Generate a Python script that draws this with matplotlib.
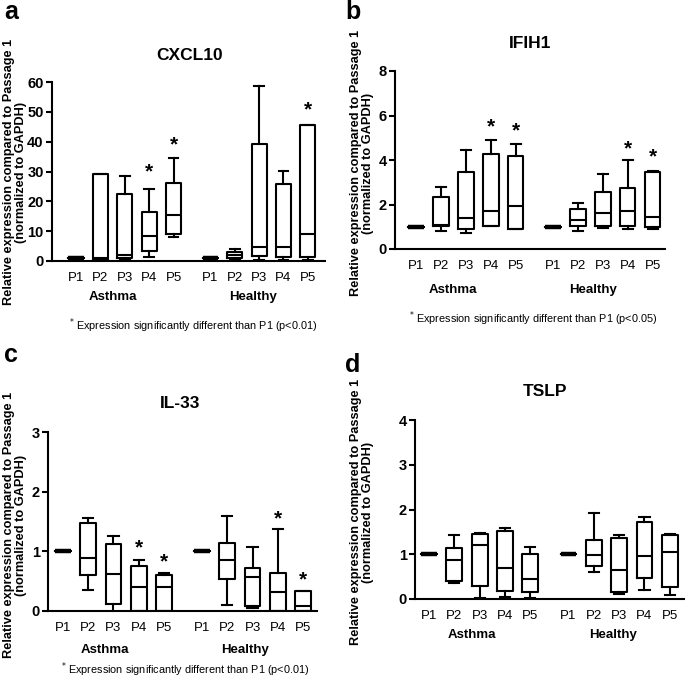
import matplotlib
matplotlib.use('Agg')
import matplotlib.pyplot as plt

plt.rcParams['font.family'] = ['Liberation Sans', 'DejaVu Sans']

passages = ['P1', 'P2', 'P3', 'P4', 'P5']
groups = ['Asthma', 'Healthy']
positions = [1, 2, 3, 4, 5, 6.5, 7.5, 8.5, 9.5, 10.5]

# each gene: lists over 10 boxes (Asthma P1-P5, Healthy P1-P5)
cxcl10_lo = [1, 0.3, 0.5, 1.5, 8, 1, 0.5, 0.3, 0.3, 0.3]
cxcl10_q1 = [1, 0.5, 1.0, 3.3, 9, 1, 1.0, 1.7, 1.3, 1.3]
cxcl10_med = [1, 1.0, 2.0, 8.5, 15.3, 1, 2.0, 4.6, 4.8, 9.2]
cxcl10_q3 = [1, 29.3, 22.3, 16.5, 26, 1, 3.0, 39.2, 25.8, 45.5]
cxcl10_hi = [1, 29.3, 28.5, 24.3, 34.6, 1, 3.9, 58.8, 30.3, 45.5]
cxcl10_stars = [(3, 30), (4, 39), (9, 50.5)]

ifih1_lo = [1, 0.79, 0.72, 1.02, 0.88, 1, 0.8, 0.93, 0.92, 0.88]
ifih1_q1 = [1, 1.02, 0.9, 1.05, 0.9, 1, 1.05, 1.05, 1.05, 0.99]
ifih1_med = [1, 1.09, 1.39, 1.72, 1.93, 1, 1.3, 1.64, 1.69, 1.42]
ifih1_q3 = [1, 2.35, 3.44, 4.27, 4.19, 1, 1.78, 2.57, 2.72, 3.47]
ifih1_hi = [1, 2.8, 4.45, 4.9, 4.72, 1, 2.05, 3.35, 3.98, 3.52]
ifih1_stars = [(3, 5.5), (4, 5.3), (8, 4.5), (9, 4.15)]

il33_lo = [1, 0.35, -0.06, 0, 0, 1, 0.1, 0.05, 0, 0]
il33_q1 = [1, 0.61, 0.12, 0, 0, 1, 0.54, 0.09, 0, 0]
il33_med = [1, 0.88, 0.62, 0.41, 0.4, 1, 0.85, 0.57, 0.32, 0.09]
il33_q3 = [1, 1.47, 1.13, 0.76, 0.6, 1, 1.14, 0.72, 0.64, 0.34]
il33_hi = [1, 1.56, 1.26, 0.86, 0.64, 1, 1.6, 1.08, 1.38, 0.34]
il33_stars = [(3, 1.05), (4, 0.83), (8, 1.55), (9, 0.52)]

tslp_lo = [1, 0.36, 0.02, 0.05, 0.02, 1, 0.6, 0.12, 0.2, 0.1]
tslp_q1 = [1, 0.4, 0.3, 0.17, 0.15, 1, 0.74, 0.15, 0.47, 0.27]
tslp_med = [1, 0.88, 1.21, 0.69, 0.45, 1, 0.98, 0.65, 0.95, 1.04]
tslp_q3 = [1, 1.15, 1.45, 1.52, 1.0, 1, 1.32, 1.36, 1.72, 1.42]
tslp_hi = [1, 1.42, 1.48, 1.59, 1.16, 1, 1.92, 1.42, 1.83, 1.45]
tslp_stars = []

W, H = 685, 680
fig = plt.figure(figsize=(W / 100, H / 100), dpi=100)

ylabel = 'Relative expression compared to Passage 1\n(normalized to GAPDH)'


def px_axes(left, right, top, bottom):
    return fig.add_axes([left / W, 1 - bottom / H, (right - left) / W, (bottom - top) / H])


def draw_panel(rect, lo, q1, med, q3, hi, stars, ymax, ystep, xlim, title,
               letter, letter_xy, title_xy, ylab_xy, group_y, group_x, note=None, note_xy=None):
    ax = px_axes(*rect)
    stats = []
    for i in range(len(positions)):
        stats.append(dict(whislo=lo[i], q1=q1[i], med=med[i], q3=q3[i], whishi=hi[i], fliers=[]))
    lw = 1.5
    parts = ax.bxp(stats, positions=positions, widths=0.62, showfliers=False,
                   boxprops=dict(color='black', linewidth=lw),
                   medianprops=dict(color='black', linewidth=lw),
                   whiskerprops=dict(color='black', linewidth=lw),
                   capprops=dict(color='black', linewidth=lw),
                   capwidths=0.4)
    # P1 is the reference passage: a flat box drawn as a heavy bar
    for i in (0, 5):
        parts['medians'][i].set_linewidth(3.2)
        parts['medians'][i].set_solid_capstyle('butt')
    for idx, yv in stars:
        ax.text(positions[idx], yv, '*', ha='center', va='center', fontsize=15, fontweight='bold')
    ax.set_ylim(0, ymax)
    ax.set_xlim(*xlim)
    nt = int(round(ymax / ystep)) + 1
    ax.set_yticks([ystep * k for k in range(nt)])
    ax.set_yticklabels([str(int(ystep * k)) for k in range(nt)], fontsize=10.5, fontweight='bold')
    ax.set_xticks(positions)
    ax.set_xticklabels(passages * 2, fontsize=9.5)
    ax.tick_params(axis='x', length=0, pad=8)
    ax.set_xticks([positions[2], positions[7]], minor=True)
    ax.tick_params(axis='x', which='minor', length=4, width=1.5)
    ax.tick_params(axis='y', length=4, width=1.5, pad=2)
    ax.spines['top'].set_visible(False)
    ax.spines['right'].set_visible(False)
    ax.spines['left'].set_linewidth(1.5)
    ax.spines['bottom'].set_linewidth(1.5)
    ax.patch.set_alpha(0)

    fig.text(letter_xy[0] / W, 1 - letter_xy[1] / H, letter, fontsize=18, fontweight='bold',
             ha='center', va='center')
    fig.text(title_xy[0] / W, 1 - title_xy[1] / H, title, fontsize=12.5, fontweight='bold',
             ha='center', va='center')
    fig.text(ylab_xy[0] / W, 1 - ylab_xy[1] / H, ylabel, fontsize=9.2, fontweight='bold',
             rotation=90, ha='center', va='center', linespacing=1.0)
    for g, gx in zip(groups, group_x):
        fig.text(gx / W, 1 - group_y / H, g, fontsize=9.5, fontweight='bold', ha='center', va='center')
    if note:
        fig.text(note_xy[0] / W, 1 - note_xy[1] / H, note, fontsize=7.8, ha='center', va='center')
    return ax


draw_panel((52, 325, 82, 261), cxcl10_lo, cxcl10_q1, cxcl10_med, cxcl10_q3, cxcl10_hi, cxcl10_stars,
           60, 10, (0.02, 11.2), 'CXCL10', 'a', (11, 12), (190, 55), (15, 172), 297, (113, 253),
           r'$^{*}$ Expression significantly different than P1 (p<0.01)', (193, 326))

draw_panel((395, 665, 71, 249), ifih1_lo, ifih1_q1, ifih1_med, ifih1_q3, ifih1_hi, ifih1_stars,
           8, 2, (0.15, 11.0), 'IFIH1', 'b', (353, 12), (530, 43), (362, 163), 290, (453, 593),
           r'$^{*}$ Expression significantly different than P1 (p<0.05)', (533, 319))

draw_panel((48, 317, 432, 611), il33_lo, il33_q1, il33_med, il33_q3, il33_hi, il33_stars,
           3, 1, (0.41, 11.05), 'IL-33', 'c', (11, 355), (180, 403), (15, 525), 650, (105, 245),
           r'$^{*}$ Expression significantly different than P1 (p<0.01)', (185, 670))

draw_panel((415, 685, 420, 599), tslp_lo, tslp_q1, tslp_med, tslp_q3, tslp_hi, tslp_stars,
           4, 1, (0.45, 11.1), 'TSLP', 'd', (353, 365), (545, 392), (362, 512), 635, (472, 613))

fig.savefig('out.png', dpi=100)
